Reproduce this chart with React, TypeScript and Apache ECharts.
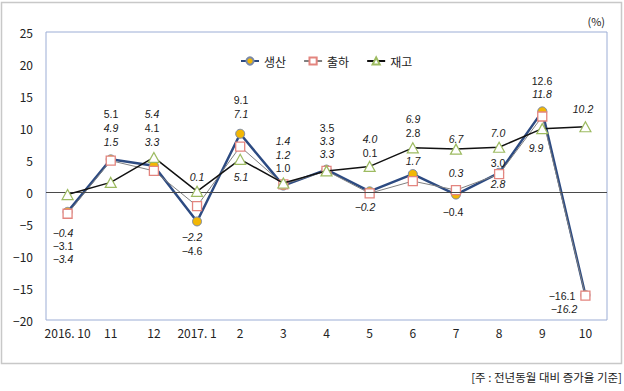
import React, { useEffect, useRef } from "react";
import * as echarts from "echarts";

// ---- data ----
const categories = ["2016. 10", "11", "12", "2017. 1", "2", "3", "4", "5", "6", "7", "8", "9", "10"];
const production = [-3.1, 5.1, 4.1, -4.6, 9.1, 1.0, 3.5, 0.1, 2.8, -0.4, 3.0, 12.6, -16.1];
const shipment = [-3.4, 4.9, 3.3, -2.2, 7.1, 1.2, 3.3, -0.2, 1.7, 0.3, 2.8, 11.8, -16.2];
const inventory = [-0.4, 1.5, 5.4, 0.1, 5.1, 1.4, 3.3, 4.0, 6.9, 6.7, 7.0, 9.9, 10.2];
const seriesNames = ["생산", "출하", "재고"];
const yMin = -20;
const yMax = 25;
const yStep = 5;

// ---- layout ----
const W = 624;
const H = 391;
const G = { left: 46, right: 17, top: 32, bottom: 71 };
const GW = W - G.left - G.right;
const GH = H - G.top - G.bottom;
const xPix = (i: number) => G.left + ((i + 0.5) * GW) / categories.length;
const yPix = (v: number) => G.top + ((yMax - v) / (yMax - yMin)) * GH;

// label centre positions (pixels)
const prodLabelPos: [number, number][] = [
  [63, 246], [111, 114], [152, 128], [192, 251], [241, 100], [283, 168], [327, 128],
  [370, 153], [413, 133], [453, 212], [498, 163], [542, 81], [562, 296],
];
const shipLabelPos: [number, number][] = [
  [63, 259], [111, 128], [152, 142], [192, 237], [241, 114], [283, 155], [327, 141],
  [365, 207], [413, 161], [456, 173], [498, 184], [542, 94], [564, 309],
];
const invLabelPos: [number, number][] = [
  [63, 233], [111, 142], [152, 114], [197, 177], [241, 177], [283, 141], [327, 154],
  [370, 139], [413, 119], [456, 139], [498, 133], [536, 148], [583, 109],
];

const fmt = (v: number) => (v < 0 ? "\u2212" : "") + Math.abs(v).toFixed(1);

const FONT = "'Noto Sans CJK KR', 'Noto Sans', sans-serif";
const LABEL_FONT = "'Liberation Sans', Arial, sans-serif";

function items(values: number[], pos: [number, number][]) {
  return values.map((v, i) => ({
    value: v,
    label: { offset: [pos[i][0] - xPix(i), pos[i][1] - yPix(v)] },
  }));
}

export default function App() {
  const ref = useRef<HTMLDivElement>(null);
  useEffect(() => {
    if (!ref.current) return;
    const chart = echarts.init(ref.current, undefined, { renderer: "svg" });
    const labelBase = {
      show: true,
      position: "inside",
      formatter: (p: any) => fmt(p.value),
      fontSize: 10.5,
      lineHeight: 11,
      fontFamily: LABEL_FONT,
      color: "#1a1a1a",
    };
    chart.setOption({
      animation: false,
      backgroundColor: "#fff",
      textStyle: { fontFamily: FONT },
      grid: {
        left: G.left,
        right: G.right,
        top: G.top,
        bottom: G.bottom,
        show: true,
        borderColor: "#9cadd5",
        borderWidth: 1,
        backgroundColor: "transparent",
      },
      legend: {
        left: 235,
        top: 50,
        itemWidth: 18,
        itemHeight: 9,
        itemGap: 17,
        textStyle: { fontSize: 12, color: "#222", fontFamily: FONT },
        data: seriesNames,
      },
      xAxis: {
        type: "category",
        data: categories,
        boundaryGap: true,
        axisLine: { show: false },
        axisTick: { show: false },
        axisLabel: { fontSize: 12, color: "#222", margin: 6, fontFamily: FONT, interval: 0 },
        splitLine: { show: false },
      },
      yAxis: {
        type: "value",
        min: yMin,
        max: yMax,
        interval: yStep,
        axisLine: { show: false },
        axisTick: { show: false },
        splitLine: { show: false },
        axisLabel: {
          fontSize: 12,
          color: "#222",
          margin: 13,
          fontFamily: FONT,
          formatter: (v: number) => (v < 0 ? "\u2212" + Math.abs(v) : String(v)),
        },
      },
      graphic: [
        {
          type: "rect",
          shape: { x: 1.5, y: 2.5, width: 620, height: 361 },
          style: { fill: "none", stroke: "#c8c8c8", lineWidth: 1.5 },
          silent: true,
        },
        {
          type: "text",
          x: 605,
          y: 21,
          style: { text: "(%)", fontSize: 11, fill: "#222", align: "right", verticalAlign: "middle", fontFamily: FONT },
        },
        {
          type: "text",
          x: 622,
          y: 377,
          style: {
            text: "[주 : 전년동월 대비 증가율 기준]",
            fontSize: 11.5,
            fill: "#222",
            align: "right",
            verticalAlign: "middle",
            fontFamily: FONT,
          },
        },
      ],
      series: [
        {
          name: seriesNames[0],
          type: "line",
          data: items(production, prodLabelPos),
          symbol: "circle",
          symbolSize: 9,
          showAllSymbol: true,
          lineStyle: { color: "#2d4b82", width: 2.5 },
          itemStyle: { color: "#f2b705", borderColor: "#7a8aa8", borderWidth: 1 },
          label: { ...labelBase, fontStyle: "normal" },
          z: 3,
          markLine: {
            silent: true,
            symbol: "none",
            label: { show: false },
            lineStyle: { color: "#4a4a4a", width: 1, type: "solid" },
            data: [{ yAxis: 0 }],
          },
        },
        {
          name: seriesNames[1],
          type: "line",
          data: items(shipment, shipLabelPos),
          symbol: "rect",
          symbolSize: 9,
          showAllSymbol: true,
          lineStyle: { color: "#808080", width: 1 },
          itemStyle: { color: "#ffffff", borderColor: "#e3857f", borderWidth: 1.3 },
          label: { ...labelBase, fontStyle: "italic" },
          z: 4,
        },
        {
          name: seriesNames[2],
          type: "line",
          data: items(inventory, invLabelPos),
          symbol: "triangle",
          symbolSize: [11, 10],
          showAllSymbol: true,
          lineStyle: { color: "#111111", width: 1.5 },
          itemStyle: { color: "#ffffff", borderColor: "#9dbb61", borderWidth: 1.2 },
          label: { ...labelBase, fontStyle: "italic" },
          z: 5,
        },
      ],
    });
    return () => chart.dispose();
  }, []);
  return (
    <div
      ref={ref}
      style={{ position: "absolute", left: 0, top: 0, width: W, height: H, background: "#fff" }}
    />
  );
}
